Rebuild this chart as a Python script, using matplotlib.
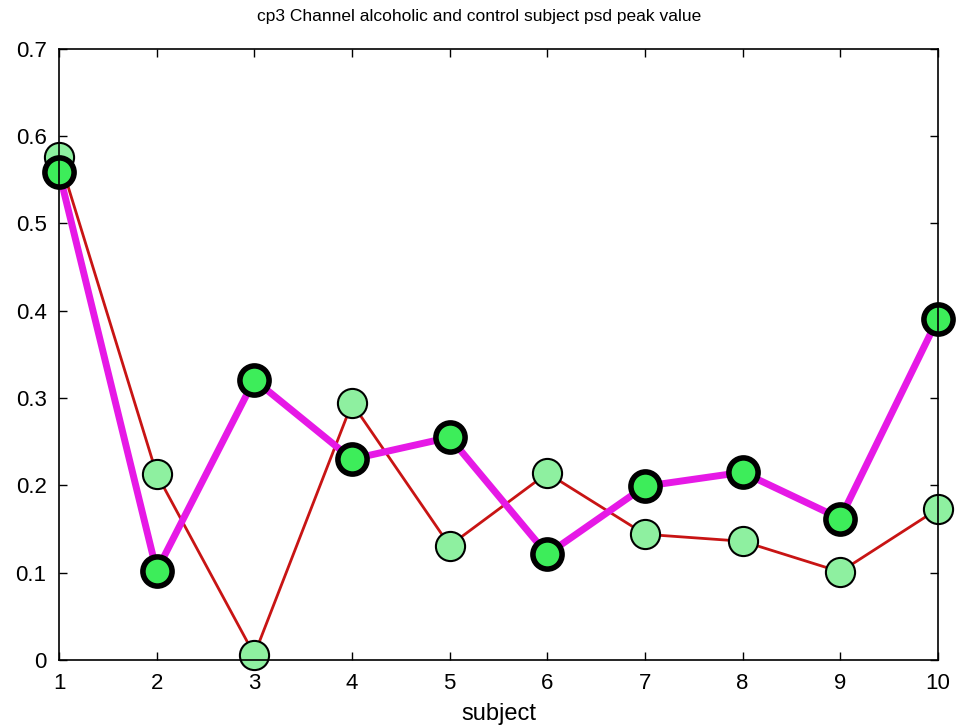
import numpy as np
import matplotlib
matplotlib.use('Agg')
import matplotlib.pyplot as plt

plt.rcParams['font.family'] = ['Liberation Sans', 'DejaVu Sans']

subjects = np.arange(1, 11)
control = [0.576, 0.213, 0.006, 0.294, 0.131, 0.214, 0.144, 0.136, 0.101, 0.173]
alcoholic = [0.559, 0.102, 0.321, 0.230, 0.255, 0.121, 0.199, 0.215, 0.162, 0.391]

fig = plt.figure(figsize=(9.58, 7.28), dpi=100)
ax = fig.add_axes([0.0616, 0.0934, 0.9174, 0.8396])

ax.plot(subjects, control, color='#c81414', linewidth=2, marker='o',
        markersize=21, markerfacecolor='#8ef0a0', markeredgecolor='black',
        markeredgewidth=1.5, clip_on=False)
ax.plot(subjects, alcoholic, color='#e619e6', linewidth=5, marker='o',
        markersize=21, markerfacecolor='#3ded5a', markeredgecolor='black',
        markeredgewidth=4, clip_on=False)

ax.set_xlim(1, 10)
ax.set_ylim(0, 0.7)
ax.set_xticks(subjects)
ax.set_yticks(np.arange(0, 0.71, 0.1))
ax.set_yticklabels(['0', '0.1', '0.2', '0.3', '0.4', '0.5', '0.6', '0.7'])
ax.tick_params(direction='in', top=True, right=True, length=6, labelsize=16,
               width=1)
ax.tick_params(axis='x', pad=9)
ax.tick_params(axis='y', pad=9)
for s in ax.spines.values():
    s.set_linewidth(1.2)

ax.set_title('cp3 Channel alcoholic and control subject psd peak value',
             fontsize=12.5, pad=20, x=0.478)
ax.set_xlabel('subject', fontsize=17, labelpad=7)

plt.savefig('out.png', dpi=100)
